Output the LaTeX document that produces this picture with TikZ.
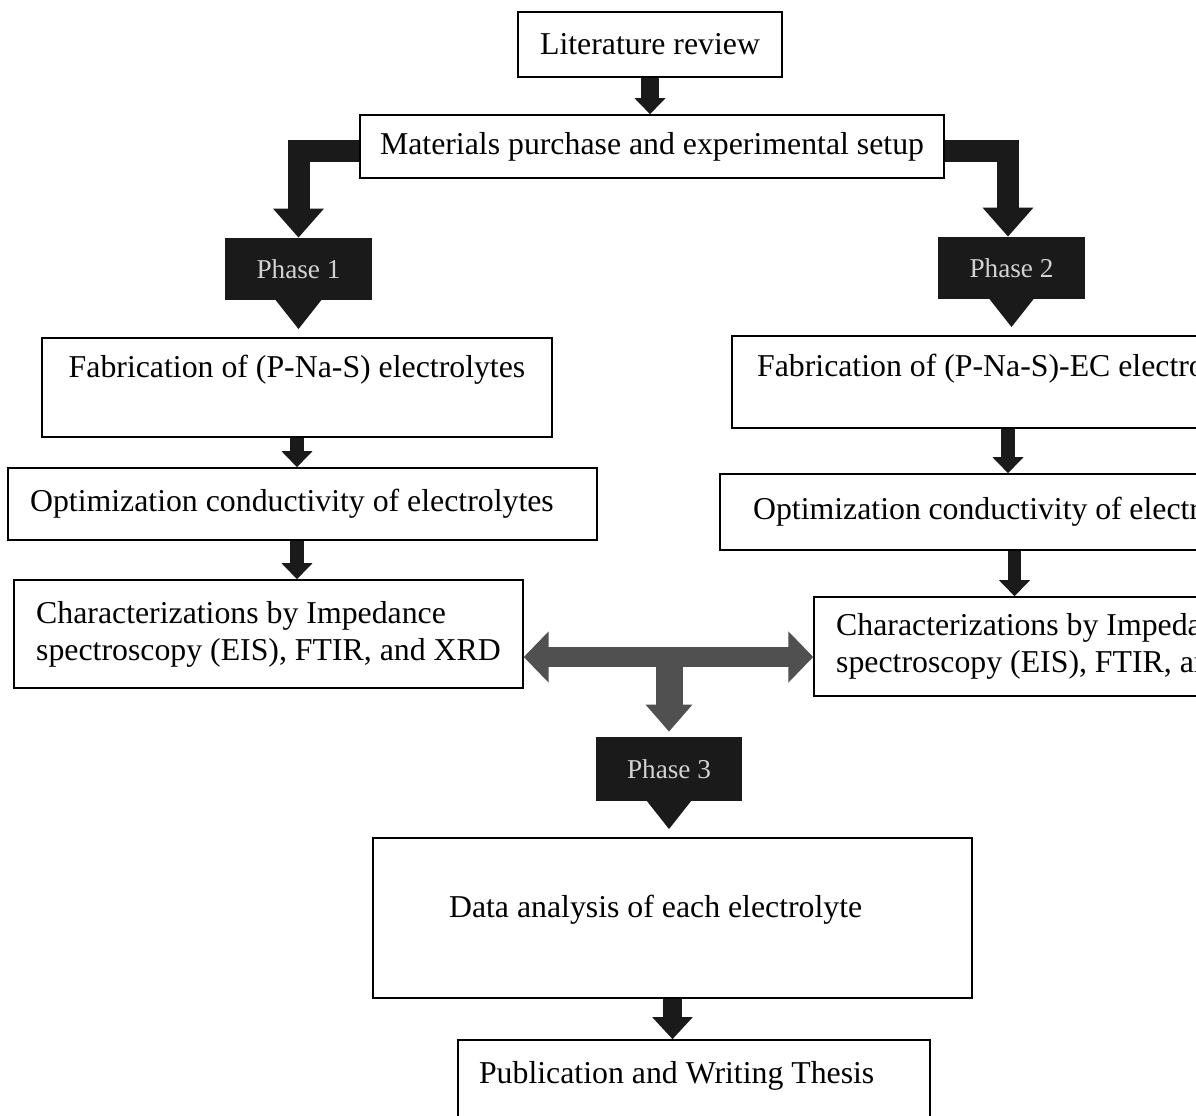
\documentclass[tikz,border=0pt]{standalone}
\usepackage{fontspec}
\setmainfont{Liberation Serif}
\usepackage{tikz}
\usetikzlibrary{positioning,arrows.meta,backgrounds}
\definecolor{ink}{HTML}{1A1A1A}
\definecolor{shade}{HTML}{505050}
\definecolor{pale}{HTML}{D2D2D2}

\begin{document}
\begin{tikzpicture}[
  x=0.02cm, y=-0.02cm,
  box/.style={draw=black,fill=white,line width=0.9pt,inner sep=0pt,align=center,
              font=\fontsize{18.1}{21}\selectfont},
  phase/.style={fill=ink,text=pale,minimum width=2.94cm,minimum height=1.24cm,
                font=\fontsize{15.5}{18}\selectfont},
  ar/.style={draw=ink,line width=0.27cm,-{Triangle[width=0.6cm,length=0.32cm]}},
  elbow/.style={draw=ink,line width=0.44cm,line join=miter,-{Triangle[width=0.98cm,length=0.58cm]}},
  drop/.style={draw=ink,line width=0.4cm,shorten >=0.16cm,-{Triangle[width=0.9cm,length=0.6cm]}},
  link/.style={draw=shade,line width=0.4cm,{Triangle[width=1cm,length=0.5cm]}-{Triangle[width=1cm,length=0.5cm]}}
]
\useasboundingbox (0,0) rectangle (1196,1115);
\clip (0,0) rectangle (1196,1115);

% top
\node[box,minimum width=5.28cm,minimum height=1.3cm] (lit) at (650,44.5) {Literature review};
\node[box,minimum width=11.68cm,minimum height=1.26cm] (mat) at (652,146.5) {Materials purchase and experimental setup};

% phase 1 (left)
\node[phase] (ph1) at (298.5,269) {Phase 1};
\node[box,minimum width=10.2cm,minimum height=1.98cm] (fabL) at (297,387.5) {Fabrication of (P-Na-S) electrolytes\\[-0.12cm]\strut};
\node[box,align=flush left,text width=10.9cm,inner xsep=0.44cm,minimum height=1.44cm] (optL) at (302.5,504) {Optimization conductivity of electrolytes};
\node[box,align=left,minimum width=10.18cm,minimum height=2.16cm] (charL) at (268.5,634) {Characterizations by Impedance\\spectroscopy (EIS), FTIR, and XRD};

% phase 2 (right)
\node[phase] (ph2) at (1011.5,268) {Phase 2};
\node[box,minimum width=11.16cm,minimum height=1.84cm] (fabR) at (1011,382) {Fabrication of (P-Na-S)-EC electrolytes\\[-0.3cm]\strut};
\node[box,align=flush left,text width=10.46cm,inner xsep=0.66cm,minimum height=1.52cm] (optR) at (1014.5,512) {Optimization conductivity of electrolytes};
\node[box,align=left,minimum width=10.18cm,minimum height=1.98cm] (charR) at (1068.5,646.5) {Characterizations by Impedance\\spectroscopy (EIS), FTIR, and XRD};

% phase 3
\coordinate (hub) at (669,657);
\node[phase,minimum height=1.28cm] (ph3) at (669,769) {Phase 3};
\node[box,align=flush left,text width=8.94cm,inner xsep=1.52cm,minimum height=3.2cm,text depth=0.45cm] (data) at (672.5,918) {Data analysis of each electrolyte};
\node[box,align=flush left,text width=8.6cm,inner xsep=0.42cm,minimum height=2cm] (pub) at (694,1090) {Publication and Writing Thesis\\[-0.24cm]\strut};

\begin{scope}[on background layer]
\draw[ar,line width=0.36cm] (lit.south) -- (lit.south |- mat.north);
\draw[elbow] ([yshift=-0.09cm]mat.west) -| (ph1.north);
\draw[elbow] ([yshift=-0.09cm]mat.east) -| ([xshift=-0.07cm]ph2.north);
\draw[drop] (ph1.center) -- (ph1.center |- fabL.north);
\draw[drop] (ph2.center) -- (ph2.center |- fabR.north);
\draw[ar] (fabL.south) -- (fabL.south |- optL.north);
\draw[ar] (optL.south -| fabL.south) -- (fabL.south |- charL.north);
\draw[ar] ([xshift=-0.06cm]fabR.south) -- ([xshift=-0.06cm]fabR.south |- optR.north);
\draw[ar] (optR.south) -- (optR.south |- charR.north);
\draw[link] (hub -| charL.east) -- (hub -| charR.west);
\draw[draw=shade,line width=0.54cm,shorten >=0.1cm,-{Triangle[width=0.9cm,length=0.54cm]}] (hub) -- (hub |- ph3.north);
\draw[drop] (ph3.center) -- (ph3.center |- data.north);
\draw[ar,line width=0.38cm,-{Triangle[width=0.78cm,length=0.44cm]}] (data.south) -- (data.south |- pub.north);
\end{scope}
\end{tikzpicture}
\end{document}
